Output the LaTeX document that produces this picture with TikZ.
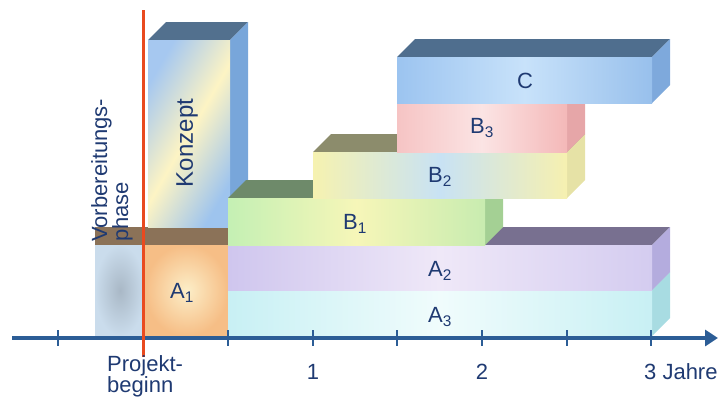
\documentclass[tikz,border=0pt]{standalone}
\usepackage{fontspec}
\setmainfont{Liberation Sans}
\usetikzlibrary{arrows.meta}
\definecolor{txt}{HTML}{1F3A72}
\definecolor{axisc}{HTML}{2C5D96}
\definecolor{redl}{HTML}{E94A1F}
\definecolor{vorIn}{HTML}{A9B8C6}\definecolor{vorOut}{HTML}{CADCEC}
\definecolor{aeIn}{HTML}{FCEEC8}\definecolor{aeOut}{HTML}{F6BE86}
\definecolor{band}{HTML}{8B7258}
\definecolor{kzL}{HTML}{A6C8F0}\definecolor{kzR}{HTML}{9EC4EE}\definecolor{kzM}{HTML}{FDF4C4}\definecolor{kzS}{HTML}{78A6DA}\definecolor{kzT}{HTML}{52708E}
\definecolor{adL}{HTML}{C8F0F4}\definecolor{adM}{HTML}{F0FCFC}\definecolor{adS}{HTML}{A8DCE2}
\definecolor{azL}{HTML}{CFC6EE}\definecolor{azR}{HTML}{D4CCF0}\definecolor{azM}{HTML}{EFE8F8}\definecolor{azS}{HTML}{B4ACDE}\definecolor{azT}{HTML}{787090}
\definecolor{beL}{HTML}{C4F0B4}\definecolor{beR}{HTML}{C8ECB0}\definecolor{beM}{HTML}{F6F6B8}\definecolor{beS}{HTML}{A4D094}\definecolor{beT}{HTML}{6E8A6A}
\definecolor{bzL}{HTML}{F6F2B0}\definecolor{bzR}{HTML}{F6F0B0}\definecolor{bzM}{HTML}{C8E2F4}\definecolor{bzS}{HTML}{E6E2A6}\definecolor{bzT}{HTML}{8C8C6C}
\definecolor{bdL}{HTML}{F6C4C4}\definecolor{bdR}{HTML}{F4B8B8}\definecolor{bdM}{HTML}{FBE4E4}\definecolor{bdS}{HTML}{E6A6A8}
\definecolor{cL}{HTML}{9CC4F0}\definecolor{cR}{HTML}{98C0EC}\definecolor{cM}{HTML}{C8E2FA}\definecolor{cS}{HTML}{7EA9DC}\definecolor{cT}{HTML}{4F6E8E}
\newcommand\cuboid[7]{%
  \fill[#7] (#1,#2) -- (#1+18,#2-18) -- (#3+18,#2-18) -- (#3,#2) -- cycle;
  \fill[#6] (#3,#2) -- (#3+18,#2-18) -- (#3+18,#4-18) -- (#3,#4) -- cycle;
  \shade[#5] (#1,#2) rectangle (#3,#4);}
\tikzset{
  lbl/.style={text=txt, font=\fontsize{22}{21}\selectfont, inner sep=0pt},
  tick/.style={draw=axisc, line width=2pt},
}
\begin{document}
\begin{tikzpicture}[x=1pt,y=-1pt]
\useasboundingbox (0,0) rectangle (718,400);
% Vorbereitungsphase box
\shade[inner color=vorIn, outer color=vorOut] (95,245) rectangle (145,336);
% A1 box
\shade[inner color=aeIn, outer color=aeOut] (145,245) rectangle (228,336);
% brown band
\fill[band] (95,227) rectangle (228,245);
% Konzept
\cuboid{148}{40}{230}{227}{left color=kzL, right color=kzR, middle color=kzM, shading angle=60}{kzS}{kzT}
% A3
\cuboid{228}{290}{652}{336}{left color=adL, right color=adL, middle color=adM}{adS}{adS}
% A2
\cuboid{228}{245}{652}{290}{left color=azL, right color=azR, middle color=azM}{azS}{azT}
% B1
\cuboid{228}{198}{485}{245}{left color=beL, right color=beR, middle color=beM}{beS}{beT}
% B2
\cuboid{313}{152}{567}{198}{left color=bzL, right color=bzR, middle color=bzM}{bzS}{bzT}
% B3
\cuboid{397}{103}{567}{152}{left color=bdL, right color=bdR, middle color=bdM}{bdS}{bdS}
% C
\cuboid{397}{57}{652}{103}{left color=cL, right color=cR, middle color=cM}{cS}{cT}
% labels in boxes
\node[lbl, rotate=90, align=left, anchor=south west] (vor) at (133,242) {Vorbereitungs-\\phase};
\node[lbl, rotate=90, font=\fontsize{24}{24}\selectfont] (konzept) at (187,143) {Konzept};
\node[lbl] (a1) at (182,293) {A\textsubscript{1}};
\node[lbl] (a2) at (440,271) {A\textsubscript{2}};
\node[lbl] (a3) at (440,317) {A\textsubscript{3}};
\node[lbl] (b1) at (355,224) {B\textsubscript{1}};
\node[lbl] (b2) at (440,177) {B\textsubscript{2}};
\node[lbl] (b3) at (482,128) {B\textsubscript{3}};
\node[lbl] (c) at (525,81) {C};
% axis
\coordinate (axs) at (12,338);
\coordinate (axe) at (718,338);
\draw[axisc, line width=4pt, -{Triangle[length=13pt,width=16pt]}] (axs) -- (axe);
\foreach \x in {58,228,313,397,482,567,651} \draw[tick] (\x,330) -- (\x,346);
% red line
\coordinate (rt) at (143,10);
\coordinate (rb) at (143,357);
\draw[redl, line width=3pt] (rt) -- (rb);
% axis labels
\node[lbl, align=left, anchor=north west] (pb) at (107,355) {Projekt-\\beginn};
\node[lbl] (y1) at (313,372) {1};
\node[lbl] (y2) at (482,372) {2};
\node[lbl, anchor=west] (y3) at (644,372) {3 Jahre};
\end{tikzpicture}
\end{document}
